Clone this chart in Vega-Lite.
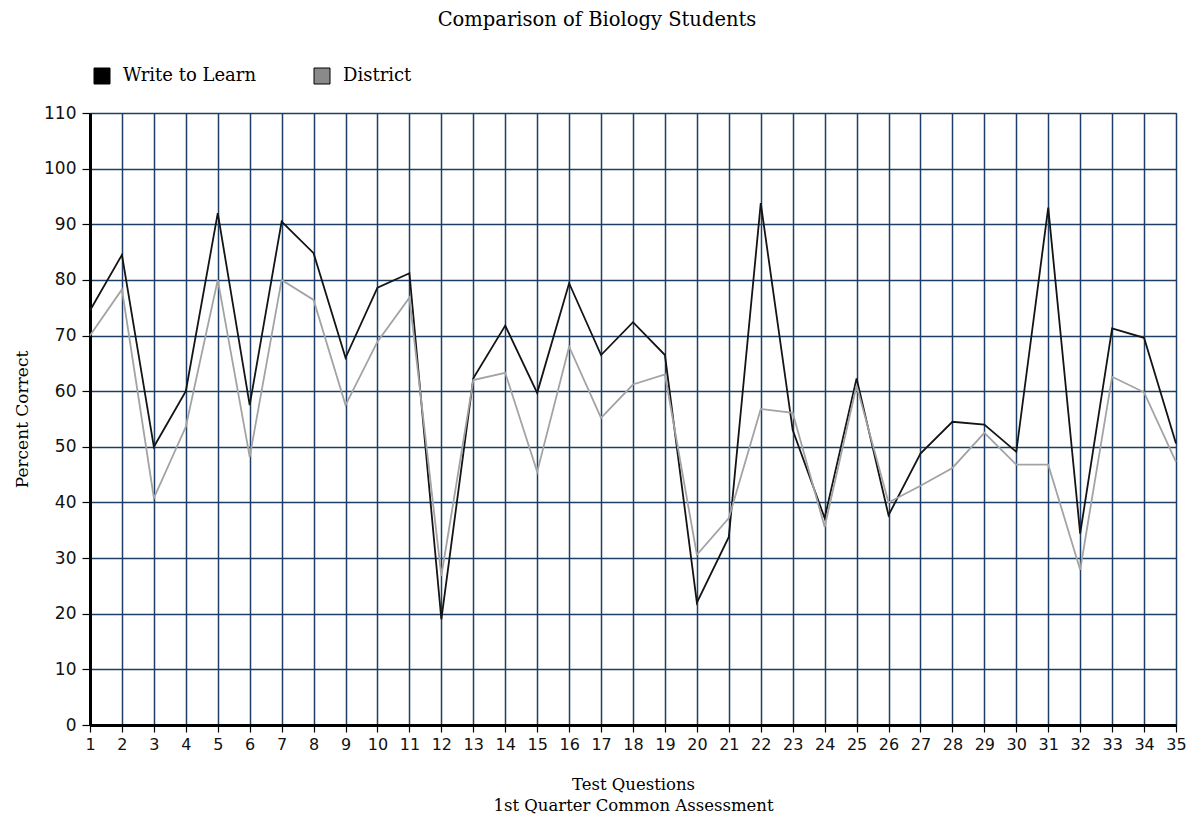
{
  "$schema": "https://vega.github.io/schema/vega-lite/v6.json",
  "width": 1086,
  "height": 612,
  "autosize": "none",
  "padding": {"left": 90, "top": 113, "right": 10, "bottom": 98},
  "background": "white",
  "title": {"text": "Comparison of Biology Students", "font": "DejaVu Serif", "fontSize": 19.5, "fontWeight": "normal", "color": "#000", "anchor": "middle", "offset": 37, "dx": -36},
  "datasets": {
    "scores": [
      {"q": 1, "series": "Write to Learn", "pct": 74.5}, {"q": 2, "series": "Write to Learn", "pct": 84.5}, {"q": 3, "series": "Write to Learn", "pct": 50}, {"q": 4, "series": "Write to Learn", "pct": 60}, {"q": 5, "series": "Write to Learn", "pct": 92}, {"q": 6, "series": "Write to Learn", "pct": 57.5}, {"q": 7, "series": "Write to Learn", "pct": 90.5}, {"q": 8, "series": "Write to Learn", "pct": 84.8}, {"q": 9, "series": "Write to Learn", "pct": 66}, {"q": 10, "series": "Write to Learn", "pct": 78.6}, {"q": 11, "series": "Write to Learn", "pct": 81.2}, {"q": 12, "series": "Write to Learn", "pct": 19}, {"q": 13, "series": "Write to Learn", "pct": 62.3}, {"q": 14, "series": "Write to Learn", "pct": 71.8}, {"q": 15, "series": "Write to Learn", "pct": 59.7}, {"q": 16, "series": "Write to Learn", "pct": 79.4}, {"q": 17, "series": "Write to Learn", "pct": 66.5}, {"q": 18, "series": "Write to Learn", "pct": 72.4}, {"q": 19, "series": "Write to Learn", "pct": 66.5}, {"q": 20, "series": "Write to Learn", "pct": 22}, {"q": 21, "series": "Write to Learn", "pct": 33.8}, {"q": 22, "series": "Write to Learn", "pct": 93.8}, {"q": 23, "series": "Write to Learn", "pct": 53}, {"q": 24, "series": "Write to Learn", "pct": 37.2}, {"q": 25, "series": "Write to Learn", "pct": 62.3}, {"q": 26, "series": "Write to Learn", "pct": 37.7}, {"q": 27, "series": "Write to Learn", "pct": 48.8}, {"q": 28, "series": "Write to Learn", "pct": 54.5}, {"q": 29, "series": "Write to Learn", "pct": 54}, {"q": 30, "series": "Write to Learn", "pct": 49.1}, {"q": 31, "series": "Write to Learn", "pct": 93}, {"q": 32, "series": "Write to Learn", "pct": 34.4}, {"q": 33, "series": "Write to Learn", "pct": 71.3}, {"q": 34, "series": "Write to Learn", "pct": 69.6}, {"q": 35, "series": "Write to Learn", "pct": 50.6},
      {"q": 1, "series": "District", "pct": 70}, {"q": 2, "series": "District", "pct": 78.3}, {"q": 3, "series": "District", "pct": 40.8}, {"q": 4, "series": "District", "pct": 53.6}, {"q": 5, "series": "District", "pct": 80}, {"q": 6, "series": "District", "pct": 48.2}, {"q": 7, "series": "District", "pct": 80}, {"q": 8, "series": "District", "pct": 76.4}, {"q": 9, "series": "District", "pct": 57.5}, {"q": 10, "series": "District", "pct": 68.9}, {"q": 11, "series": "District", "pct": 76.8}, {"q": 12, "series": "District", "pct": 26.8}, {"q": 13, "series": "District", "pct": 62}, {"q": 14, "series": "District", "pct": 63.3}, {"q": 15, "series": "District", "pct": 45.5}, {"q": 16, "series": "District", "pct": 68}, {"q": 17, "series": "District", "pct": 55.2}, {"q": 18, "series": "District", "pct": 61.2}, {"q": 19, "series": "District", "pct": 63}, {"q": 20, "series": "District", "pct": 30.6}, {"q": 21, "series": "District", "pct": 37.2}, {"q": 22, "series": "District", "pct": 56.8}, {"q": 23, "series": "District", "pct": 56.1}, {"q": 24, "series": "District", "pct": 35.6}, {"q": 25, "series": "District", "pct": 61}, {"q": 26, "series": "District", "pct": 40}, {"q": 27, "series": "District", "pct": 43}, {"q": 28, "series": "District", "pct": 46.2}, {"q": 29, "series": "District", "pct": 52.5}, {"q": 30, "series": "District", "pct": 46.8}, {"q": 31, "series": "District", "pct": 46.8}, {"q": 32, "series": "District", "pct": 27.9}, {"q": 33, "series": "District", "pct": 62.6}, {"q": 34, "series": "District", "pct": 59.8}, {"q": 35, "series": "District", "pct": 47.3}
    ]
  },
  "data": {"name": "scores"},
  "encoding": {
    "x": {
      "field": "q", "type": "quantitative",
      "scale": {"domain": [1, 35], "nice": false, "zero": false},
      "axis": {
        "values": [1,2,3,4,5,6,7,8,9,10,11,12,13,14,15,16,17,18,19,20,21,22,23,24,25,26,27,28,29,30,31,32,33,34,35],
        "format": "d", "labelFlush": false, "labelOverlap": false, "labelBound": false,
        "labelFont": "DejaVu Sans", "labelFontSize": 16, "labelColor": "#111", "labelPadding": 4, "labelAngle": 0,
        "grid": true, "gridColor": "#1d3f66", "gridWidth": 1.5, "gridOpacity": 1,
        "domainColor": "#000", "domainWidth": 3, "tickColor": "#000", "tickSize": 7, "tickWidth": 1.2,
        "title": ["Test Questions", "1st Quarter Common Assessment"],
        "titleFont": "DejaVu Serif", "titleFontSize": 16.5, "titleFontWeight": "normal", "titleColor": "#000", "titlePadding": 24, "titleLineHeight": 21
      }
    },
    "y": {
      "field": "pct", "type": "quantitative",
      "scale": {"domain": [0, 110], "nice": false},
      "axis": {
        "values": [0,10,20,30,40,50,60,70,80,90,100,110],
        "labelFont": "DejaVu Sans", "labelFontSize": 17, "labelColor": "#111", "labelPadding": 6,
        "grid": true, "gridColor": "#1d3f66", "gridWidth": 1.5, "gridOpacity": 1,
        "domainColor": "#000", "domainWidth": 3, "tickColor": "#000", "tickSize": 8, "tickWidth": 1.2,
        "title": "Percent Correct", "titleFont": "DejaVu Serif", "titleFontSize": 17, "titleFontWeight": "normal", "titleColor": "#000", "titlePadding": 12
      }
    }
  },
  "layer": [
    {
      "mark": {"type": "line", "strokeWidth": 1.8},
      "encoding": {
        "color": {"field": "series", "type": "nominal", "scale": {"domain": ["District", "Write to Learn"], "range": ["#a3a3a3", "#141414"]}, "legend": null},
        "order": {"field": "q", "type": "quantitative"}
      }
    },
    {
      "transform": [{"filter": "datum.pct < 0"}],
      "mark": {"type": "point", "shape": "square", "filled": true, "opacity": 1, "stroke": "#000", "strokeWidth": 1},
      "encoding": {
        "fill": {
          "field": "series", "type": "nominal",
          "scale": {"domain": ["Write to Learn", "District"], "range": ["#000000", "#8a8a8a"]},
          "legend": {
            "title": null, "orient": "none", "legendX": 3, "legendY": -46, "direction": "horizontal",
            "symbolType": "square", "symbolSize": 256, "symbolStrokeColor": "#000", "symbolStrokeWidth": 1, "symbolOpacity": 1,
            "labelFont": "DejaVu Serif", "labelFontSize": 18, "labelColor": "#000", "labelOffset": 12, "columnPadding": 56
          }
        }
      }
    }
  ],
  "config": {"view": {"stroke": "#222", "strokeWidth": 1}}
}
